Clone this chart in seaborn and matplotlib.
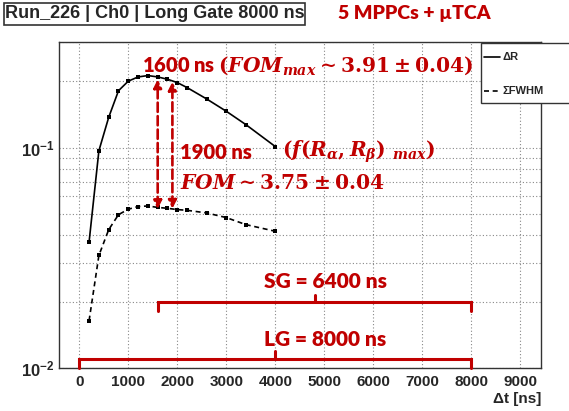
import numpy as np
import pandas as pd
import seaborn as sns
import matplotlib
matplotlib.use("Agg")
import matplotlib.pyplot as plt
from matplotlib.patches import Rectangle
from matplotlib.lines import Line2D
from matplotlib.ticker import MultipleLocator, LogLocator, FixedLocator, FixedFormatter, NullFormatter

# ---------------- data ----------------
t_ns = [200, 400, 600, 800, 1000, 1200, 1400, 1600, 1800, 2000, 2200, 2600, 3000, 3400, 4000]
delta_R = [0.0373, 0.0967, 0.137, 0.181, 0.200, 0.209, 0.212, 0.209, 0.204, 0.197, 0.187,
           0.166, 0.146, 0.127, 0.101]
sum_fwhm = [0.0164, 0.0324, 0.0424, 0.0496, 0.0525, 0.0540, 0.0543, 0.0535, 0.0530, 0.0523,
            0.0519, 0.0505, 0.0481, 0.0447, 0.0417]

x_ticks = [0, 1000, 2000, 3000, 4000, 5000, 6000, 7000, 8000, 9000]
x_tick_labels = [str(v) for v in x_ticks]
y_ticks = [0.01, 0.1]
y_tick_labels = [r"$\mathbf{10^{-2}}$", r"$\mathbf{10^{-1}}$"]

title_text = "Run_226 | Ch0 | Long Gate 8000 ns"
subtitle_text = "5 MPPCs + µTCA"
series_names = ["ΔR", "ΣFWHM"]

# arrows: (x, y_low, y_high)
arrows = [(1600, 0.0526, 0.2036), (1900, 0.0528, 0.1987)]
# brackets: (x_start, x_end, y_line, y_end, y_mid, label, label_x, label_y)
brackets = [(1600, 8000, 0.0199, 0.0182, 0.0214, "SG = 6400 ns", 3770, 0.0247),
            (0, 8000, 0.01102, 0.0100, 0.0120, "LG = 8000 ns", 3770, 0.01352)]

RED = "#C00000"

# ---------------- style ----------------
sns.set_style("white")
plt.rcParams.update({
    "mathtext.fontset": "custom",
    "mathtext.rm": "DejaVu Serif:bold",
    "mathtext.it": "DejaVu Serif:italic:bold",
    "mathtext.bf": "Liberation Sans:bold",
    "mathtext.sf": "Liberation Sans:bold",
    "font.weight": "bold",
})
plt.rcParams["font.family"] = ["Liberation Sans", "DejaVu Sans"]

df = pd.DataFrame({"t": t_ns, "dR": delta_R, "fwhm": sum_fwhm})

fig = plt.figure(figsize=(5.69, 4.11), dpi=100)
ax = fig.add_axes([59 / 569, 1 - 368 / 411, (541 - 59) / 569, (368 - 42) / 411])

sns.lineplot(data=df, x="t", y="dR", ax=ax, color="black", lw=1.2,
             marker="s", markersize=2.6, markeredgewidth=0, zorder=3)
sns.lineplot(data=df, x="t", y="fwhm", ax=ax, color="black", lw=1.2,
             linestyle=(0, (3, 2.2)), marker="s", markersize=2.6, markeredgewidth=0, zorder=3)

ax.set_yscale("log")
ax.set_xlim(-414, 9422)
ax.set_ylim(0.01, 0.301)

ax.xaxis.set_major_locator(FixedLocator(x_ticks))
ax.xaxis.set_major_formatter(FixedFormatter(x_tick_labels))
ax.xaxis.set_minor_locator(MultipleLocator(200))
ax.yaxis.set_major_locator(FixedLocator(y_ticks))
ax.yaxis.set_major_formatter(FixedFormatter(y_tick_labels))
ax.yaxis.set_minor_locator(LogLocator(base=10, subs=np.arange(2, 10)))
ax.yaxis.set_minor_formatter(NullFormatter())

ax.tick_params(axis="both", which="both", direction="in", color="#333333", width=1,
               top=False, right=False)
ax.tick_params(axis="x", which="major", length=8, labelsize=11, pad=5)
ax.tick_params(axis="x", which="minor", length=4)
ax.tick_params(axis="y", which="major", length=13, labelsize=12, pad=3)
ax.tick_params(axis="y", which="minor", length=7)

ax.grid(True, which="major", axis="x", color="#888888", lw=0.8, linestyle=(0, (1, 2)))
ax.grid(True, which="both", axis="y", color="#888888", lw=0.8, linestyle=(0, (1, 2)))
for s in ax.spines.values():
    s.set_color("#333333")
    s.set_linewidth(1)

ax.set_xlabel("Δt [ns]", loc="right", fontsize=11, fontweight="bold", labelpad=2)
ax.set_ylabel("")

# ---------------- annotations ----------------
ann_font = ["Lato", "DejaVu Sans"]
ann_w = "heavy"
ax.text(1280, 0.234, r"1600 ns $(FOM_{max}{\sim}3.91\pm0.04)$", color=RED, fontsize=14.5,
        fontweight=ann_w, family=ann_font, va="center", ha="left", zorder=5)
ax.text(2055, 0.0952, "1900 ns", color=RED, fontsize=14.5, fontweight=ann_w,
        family=ann_font, va="center", ha="left", zorder=5)
ax.text(4134, 0.0952, r"$(f(R_{\alpha},R_{\beta})\ {}_{max})$", color=RED, fontsize=14.5,
        va="center", ha="left", zorder=5)
ax.text(2055, 0.0689, r"$FOM{\sim}3.75\pm0.04$", color=RED, fontsize=14.5,
        va="center", ha="left", zorder=5)

for x, ylo, yhi in arrows:
    ax.annotate("", xy=(x, yhi), xytext=(x, ylo),
                arrowprops=dict(arrowstyle="<|-|>", color=RED, lw=1.9, linestyle=(0, (3.5, 1.6)),
                                mutation_scale=12, shrinkA=0, shrinkB=0), zorder=4)

for x0, x1, yl, ye, ym, lab, lx, ly in brackets:
    xm = (x0 + x1) / 2
    ax.plot([x0, x0, x1, x1], [ye, yl, yl, ye], color=RED, lw=2.2, solid_joinstyle="miter",
            clip_on=False, zorder=4)
    ax.plot([xm, xm], [yl, ym], color=RED, lw=2.2, clip_on=False, zorder=4)
    ax.text(lx, ly, lab, color=RED, fontsize=15, fontweight=ann_w, family=ann_font,
            ha="left", va="center", zorder=5)

# ---------------- title boxes ----------------
fig.add_artist(Rectangle((4 / 569, 1 - 25 / 411), 301 / 569, 22 / 411, transform=fig.transFigure,
                         facecolor="white", edgecolor="#333333", lw=1.2))
fig.text(154.5 / 569, 1 - 14 / 411, title_text, fontsize=13, fontweight="bold",
         family=["Liberation Sans Narrow", "Liberation Sans"], ha="center", va="center")
fig.text(414 / 569, 1 - 14 / 411, subtitle_text, fontsize=14, fontweight=ann_w, color=RED,
         family=ann_font, ha="center", va="center")

# ---------------- legend ----------------
fig.add_artist(Rectangle((481 / 569, 1 - 103 / 411), 120 / 569, 60 / 411, transform=fig.transFigure,
                         facecolor="white", edgecolor="#333333", lw=1.0, zorder=10))
leg_y = [57, 91]
leg_styles = ["-", (0, (3, 2.2))]
for name, ypx, ls in zip(series_names, leg_y, leg_styles):
    fig.add_artist(Line2D([484 / 569, 500 / 569], [1 - ypx / 411] * 2, transform=fig.transFigure,
                          color="black", lw=1.2, linestyle=ls, zorder=11))
    fig.text(503 / 569, 1 - ypx / 411, name, fontsize=8, fontweight="bold", ha="left",
             va="center", zorder=12)

fig.savefig("out.png", dpi=100)
